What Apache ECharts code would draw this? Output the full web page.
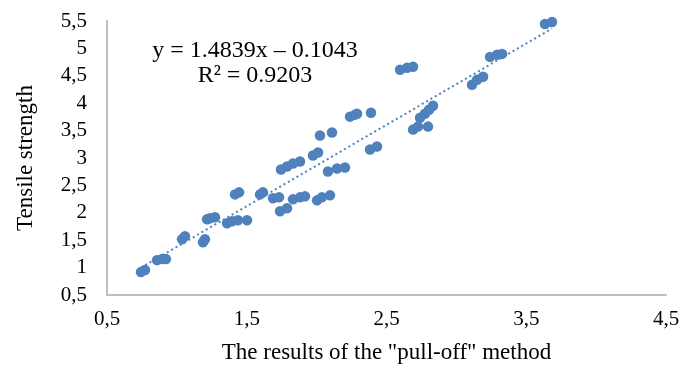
<!DOCTYPE html>
<html>
<head>
<meta charset="utf-8">
<script src="https://cdn.jsdelivr.net/npm/echarts@6/dist/echarts.min.js"></script>
<style>
  html, body { margin: 0; padding: 0; background: #fff; }
  #chart { width: 683px; height: 369px; }
</style>
</head>
<body>
<div id="chart"></div>
<script>
// pull-off results (x) against tensile strength (y)
const pullOff = [
  0.743, 0.772, 0.858, 0.894, 0.922, 1.037, 1.058, 1.187, 1.201, 1.216,
  1.237, 1.273, 1.359, 1.394, 1.416, 1.445, 1.437, 1.502, 1.595, 1.616,
  1.688, 1.731, 1.738, 1.788, 1.745, 1.788, 1.831, 1.881, 1.831, 1.881,
  1.917, 1.974, 2.010, 2.003, 2.038, 2.096, 2.081, 2.146, 2.203, 2.024,
  2.110, 2.239, 2.275, 2.289, 2.389, 2.382, 2.432, 2.597, 2.647, 2.690,
  2.690, 2.725, 2.797, 2.740, 2.775, 2.804, 2.833, 3.112, 3.148, 3.191,
  3.241, 3.291, 3.327, 3.634, 3.684
];
const tensile = [
  0.918, 0.955, 1.136, 1.155, 1.155, 1.518, 1.573, 1.464, 1.518, 1.882,
  1.900, 1.918, 1.809, 1.845, 2.336, 2.373, 1.864, 1.864, 2.336, 2.373,
  2.264, 2.282, 2.027, 2.082, 2.791, 2.845, 2.900, 2.936, 2.245, 2.282,
  2.300, 3.045, 3.100, 2.227, 2.282, 2.318, 2.755, 2.809, 2.827, 3.409,
  3.464, 3.755, 3.791, 3.809, 3.827, 3.155, 3.209, 4.609, 4.645, 4.664,
  3.518, 3.573, 3.573, 3.736, 3.809, 3.882, 3.955, 4.336, 4.427, 4.482,
  4.845, 4.882, 4.900, 5.445, 5.482
];
const slope = 1.4839;
const intercept = -0.1043;
const equationText = 'y = 1.4839x \u2013 0.1043';
const r2Text = 'R\u00b2 = 0.9203';

const blue = '#4f81bd';
const serif = '"Liberation Serif", "Times New Roman", serif';

const points = pullOff.map((x, i) => [x, tensile[i]]);
const xMin = Math.min(...pullOff);
const xMax = Math.max(...pullOff);
const trend = [[xMin, slope * xMin + intercept], [xMax, slope * xMax + intercept]];

const comma = v => String(v).replace('.', ',');

const chart = echarts.init(document.getElementById('chart'));
chart.setOption({
  animation: false,
  backgroundColor: '#fff',
  grid: { left: 107, right: 17, top: 21, bottom: 73 },
  xAxis: {
    type: 'value',
    min: 0.5,
    max: 4.5,
    interval: 0.5,
    name: 'The results of the "pull-off" method',
    nameLocation: 'middle',
    nameGap: 46,
    nameTextStyle: { fontFamily: serif, fontSize: 23, color: '#000' },
    axisLine: { show: true, lineStyle: { color: '#bfbfbf', width: 2 } },
    axisTick: { show: false },
    splitLine: { show: false },
    axisLabel: {
      fontFamily: serif, fontSize: 21, color: '#000', margin: 14,
      formatter: v => (Math.round(v * 2) % 2 === 1 ? comma(v) : '')
    }
  },
  yAxis: {
    type: 'value',
    min: 0.5,
    max: 5.5,
    interval: 0.5,
    name: 'Tensile strength',
    nameLocation: 'middle',
    nameGap: 70,
    nameTextStyle: { fontFamily: serif, fontSize: 23, color: '#000' },
    axisLine: { show: true, lineStyle: { color: '#bfbfbf', width: 2 } },
    axisTick: { show: false },
    splitLine: { show: false },
    axisLabel: {
      fontFamily: serif, fontSize: 21, color: '#000', margin: 20,
      formatter: v => comma(v)
    }
  },
  graphic: [
    {
      type: 'text', x: 255, y: 51,
      style: { text: equationText, font: '24px ' + serif, fill: '#000', align: 'center', verticalAlign: 'middle' }
    },
    {
      type: 'text', x: 255, y: 76,
      style: { text: r2Text, font: '24px ' + serif, fill: '#000', align: 'center', verticalAlign: 'middle' }
    }
  ],
  series: [
    {
      type: 'scatter',
      data: points,
      symbolSize: 10.5,
      itemStyle: { color: blue, opacity: 1 },
      z: 3
    },
    {
      type: 'line',
      data: trend,
      symbol: 'none',
      lineStyle: { color: blue, width: 2, type: [2, 3] },
      z: 2
    }
  ]
});
</script>
</body>
</html>
